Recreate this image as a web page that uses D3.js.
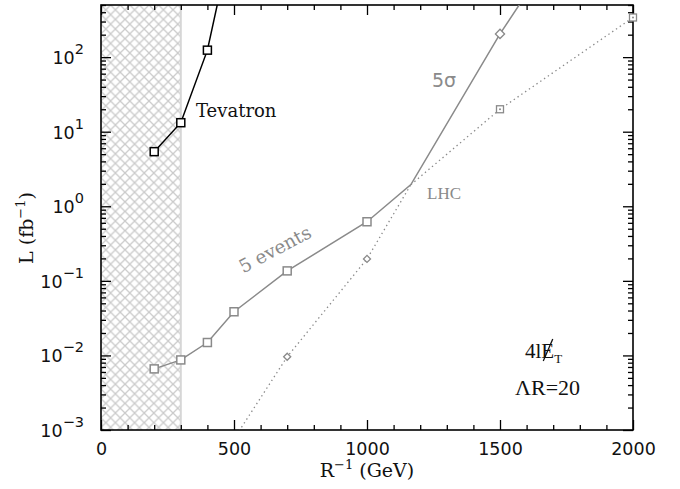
<!DOCTYPE html>
<html><head><meta charset="utf-8">
<script src="https://cdn.jsdelivr.net/npm/d3@7"></script>
<style>body{margin:0;background:#fff}</style>
</head><body>
<svg id="c" width="680" height="489" xmlns="http://www.w3.org/2000/svg"></svg>
<script>
// ---- data ----
const xTicks = [0, 500, 1000, 1500, 2000];
const yDecades = [1e-3, 1e-2, 1e-1, 1, 10, 100];
const yExponents = ["\u22123", "\u22122", "\u22121", "0", "1", "2"];
const tevatronX = [200, 300, 400, 500];
const tevatronL = [5.4, 13.2, 124, 5400];
const eventsX = [200, 300, 400, 500, 700, 1000, 1500, 2000];
const eventsL = [0.0066, 0.0087, 0.0149, 0.0385, 0.136, 0.62, 20, 340];
const sigmaX = [500, 700, 1000, 1500, 2000];
const sigmaL = [0.00076, 0.0096, 0.197, 205, 1e5];
const excludedMax = 300;

// ---- layout ----
const L = 101, R = 633, T = 5, B = 430;
const gray = "#8a8a8a";
const svg = d3.select("#c");
svg.append("rect").attr("width", 680).attr("height", 489).attr("fill", "#fff");

const x = d3.scaleLinear().domain([0, 2000]).range([L, R]);
const y = d3.scaleLog().domain([1e-3, 500]).range([B, T]);

const defs = svg.append("defs");
defs.append("clipPath").attr("id", "plot").append("rect")
  .attr("x", L).attr("y", T).attr("width", R - L).attr("height", B - T);
const pat = defs.append("pattern").attr("id", "hatch").attr("patternUnits", "userSpaceOnUse")
  .attr("width", 9.6).attr("height", 9.6).attr("x", L).attr("y", T);
pat.append("path").attr("d", "M-1,-1L10.6,10.6M10.6,-1L-1,10.6")
  .attr("stroke", "#cacaca").attr("stroke-width", 1.3).attr("fill", "none");

// hatched excluded region
svg.append("rect").attr("x", x(0)).attr("y", T).attr("width", x(excludedMax) - x(0)).attr("height", B - T)
  .attr("fill", "url(#hatch)");
svg.append("line").attr("x1", x(excludedMax)).attr("x2", x(excludedMax)).attr("y1", T).attr("y2", B)
  .attr("stroke", "#d6d6d6").attr("stroke-width", 2);

// ---- axes ----
const minorX = d3.range(100, 2000, 100).filter(v => v % 500 !== 0);
const minorY = [];
yDecades.forEach(d => { for (let k = 2; k <= 9; k++) { const v = d * k; if (v <= 500) minorY.push(v); } });

function styleAxis(g) { g.select(".domain").remove(); g.selectAll("line").attr("stroke", "#000").attr("stroke-width", 1.3); }

svg.append("g").attr("transform", `translate(0,${B})`)
  .call(d3.axisBottom(x).tickValues(xTicks).tickSize(-10).tickPadding(13).tickFormat(d3.format("d")))
  .call(styleAxis)
  .call(g => g.selectAll("text").attr("font-family", "DejaVu Sans").attr("font-size", 17.5).attr("fill", "#111"));
svg.append("g").attr("transform", `translate(0,${B})`)
  .call(d3.axisBottom(x).tickValues(minorX).tickSize(-5).tickFormat("")).call(styleAxis);
svg.append("g").attr("transform", `translate(0,${T})`)
  .call(d3.axisTop(x).tickValues(xTicks).tickSize(-10).tickFormat("")).call(styleAxis);
svg.append("g").attr("transform", `translate(0,${T})`)
  .call(d3.axisTop(x).tickValues(minorX).tickSize(-5).tickFormat("")).call(styleAxis);
svg.append("g").attr("transform", `translate(${L},0)`)
  .call(d3.axisLeft(y).tickValues(yDecades).tickSize(-10).tickFormat("")).call(styleAxis);
svg.append("g").attr("transform", `translate(${L},0)`)
  .call(d3.axisLeft(y).tickValues(minorY).tickSize(-5).tickFormat("")).call(styleAxis);
svg.append("g").attr("transform", `translate(${R},0)`)
  .call(d3.axisRight(y).tickValues(yDecades).tickSize(-10).tickFormat("")).call(styleAxis);
svg.append("g").attr("transform", `translate(${R},0)`)
  .call(d3.axisRight(y).tickValues(minorY).tickSize(-5).tickFormat("")).call(styleAxis);

// frame
svg.append("rect").attr("x", L).attr("y", T).attr("width", R - L).attr("height", B - T)
  .attr("fill", "none").attr("stroke", "#000").attr("stroke-width", 1.6);

// y tick labels
const yl = svg.append("g").selectAll("text").data(yDecades).join("text")
  .attr("x", 84).attr("y", d => y(d) + 7)
  .attr("text-anchor", "end").attr("font-family", "DejaVu Sans").attr("font-size", 17.5).attr("fill", "#111");
yl.append("tspan").text("10");
yl.append("tspan").attr("dy", -10).attr("font-size", 14.5).text((d, i) => yExponents[i]);

// axis titles
const xt = svg.append("text").attr("x", (L + R) / 2).attr("y", 477).attr("text-anchor", "middle")
  .attr("font-family", "DejaVu Serif").attr("font-size", 19).attr("fill", "#111");
xt.append("tspan").text("R");
xt.append("tspan").attr("dy", -8).attr("font-size", 13).text("\u22121");
xt.append("tspan").attr("dy", 8).text(" (GeV)");

const yt = svg.append("text").attr("transform", "translate(33,228) rotate(-90)").attr("text-anchor", "middle")
  .attr("font-family", "DejaVu Serif").attr("font-size", 19).attr("fill", "#111");
yt.append("tspan").text("L (fb");
yt.append("tspan").attr("dy", -8).attr("font-size", 13).text("\u22121");
yt.append("tspan").attr("dy", 8).text(")");

// ---- curves ----
const pts = (xs, ls) => xs.map((v, i) => ({ x: v, l: ls[i] }));
const tev = pts(tevatronX, tevatronL);
const ev = pts(eventsX, eventsL);
const sg = pts(sigmaX, sigmaL);

// crossing between 5-events and 5-sigma curves (log-linear interpolation between shared x values)
let C = null;
for (let i = 0; i < sigmaX.length - 1 && !C; i++) {
  const xa = sigmaX[i], xb = sigmaX[i + 1];
  const ea = ev.find(d => d.x === xa), eb = ev.find(d => d.x === xb);
  if (!ea || !eb) continue;
  const da = Math.log10(sg[i].l) - Math.log10(ea.l), db = Math.log10(sg[i + 1].l) - Math.log10(eb.l);
  if (da * db <= 0) {
    const t = da / (da - db);
    C = { x: xa + t * (xb - xa), l: Math.pow(10, Math.log10(ea.l) + t * (Math.log10(eb.l) - Math.log10(ea.l))) };
  }
}
const solid = [...ev.filter(d => d.x < C.x), C, ...sg.filter(d => d.x > C.x)];
const dot1 = [...sg.filter(d => d.x < C.x), C];
const dot2 = [C, ...ev.filter(d => d.x > C.x)];

const line = d3.line().x(d => x(d.x)).y(d => y(d.l));
const gc = svg.append("g").attr("clip-path", "url(#plot)");
gc.append("path").attr("d", line(tev)).attr("fill", "none").attr("stroke", "#000").attr("stroke-width", 1.5);
gc.append("path").attr("d", line(solid)).attr("fill", "none").attr("stroke", gray).attr("stroke-width", 1.5);
[dot1, dot2].forEach(p => gc.append("path").attr("d", line(p)).attr("fill", "none").attr("stroke", gray)
  .attr("stroke-width", 1.3).attr("stroke-dasharray", "1.4,3.2"));

// ---- markers ----
const inside = d => d.l >= 1e-3 && d.l <= 500 && d.x >= 0 && d.x <= 2000;
const mg = svg.append("g");
function square(d, s, color, sw) {
  mg.append("rect").attr("x", x(d.x) - s / 2).attr("y", y(d.l) - s / 2).attr("width", s).attr("height", s)
    .attr("fill", "#fff").attr("stroke", color).attr("stroke-width", sw);
}
function diamond(d, s, color) {
  mg.append("rect").attr("x", -s / 2).attr("y", -s / 2).attr("width", s).attr("height", s)
    .attr("transform", `translate(${x(d.x)},${y(d.l)}) rotate(45)`)
    .attr("fill", "#fff").attr("stroke", color).attr("stroke-width", 1.3);
}
tev.filter(inside).forEach(d => square(d, 8, "#000", 1.5));
ev.filter(inside).forEach(d => {
  if (d.x < C.x) square(d, 8, gray, 1.5);
  else {
    square(d, 7, gray, 1.3);
    mg.append("circle").attr("cx", x(d.x)).attr("cy", y(d.l)).attr("r", 1).attr("fill", gray);
  }
});
sg.filter(inside).forEach(d => diamond(d, d.x < C.x ? 5 : 6.5, gray));

// ---- labels ----
svg.append("text").attr("x", 196).attr("y", 117).attr("font-family", "DejaVu Serif").attr("font-size", 18)
  .attr("fill", "#111").text("Tevatron");
svg.append("text").attr("x", 432).attr("y", 87).attr("font-family", "DejaVu Sans").attr("font-size", 19)
  .attr("fill", gray).text("5\u03c3");
svg.append("text").attr("x", 427).attr("y", 199).attr("font-family", "Liberation Serif").attr("font-size", 17)
  .attr("fill", gray).text("LHC");
svg.append("text").attr("transform", "translate(278,255) rotate(-28)").attr("text-anchor", "middle")
  .attr("font-family", "DejaVu Serif").attr("font-size", 18.5).attr("fill", gray).text("5 events");

const sig = svg.append("text").attr("x", 525).attr("y", 358).attr("font-family", "Liberation Serif")
  .attr("font-size", 21).attr("fill", "#111");
sig.append("tspan").text("4l");
const eSpan = sig.append("tspan").text("E");
sig.append("tspan").attr("dy", 5).attr("font-size", 13).text("T");
// slash through the E (missing transverse energy)
{
  const n = eSpan.node();
  const st = n.getStartPositionOfChar(0), en = n.getEndPositionOfChar(0);
  const cx = (st.x + en.x) / 2;
  svg.append("line").attr("x1", cx - 4.5).attr("y1", 361).attr("x2", cx + 5).attr("y2", 339)
    .attr("stroke", "#111").attr("stroke-width", 1.3);
}
svg.append("text").attr("x", 515).attr("y", 395).attr("font-family", "Liberation Serif").attr("font-size", 22)
  .attr("fill", "#111").text("\u039bR=20");
</script>
</body></html>
